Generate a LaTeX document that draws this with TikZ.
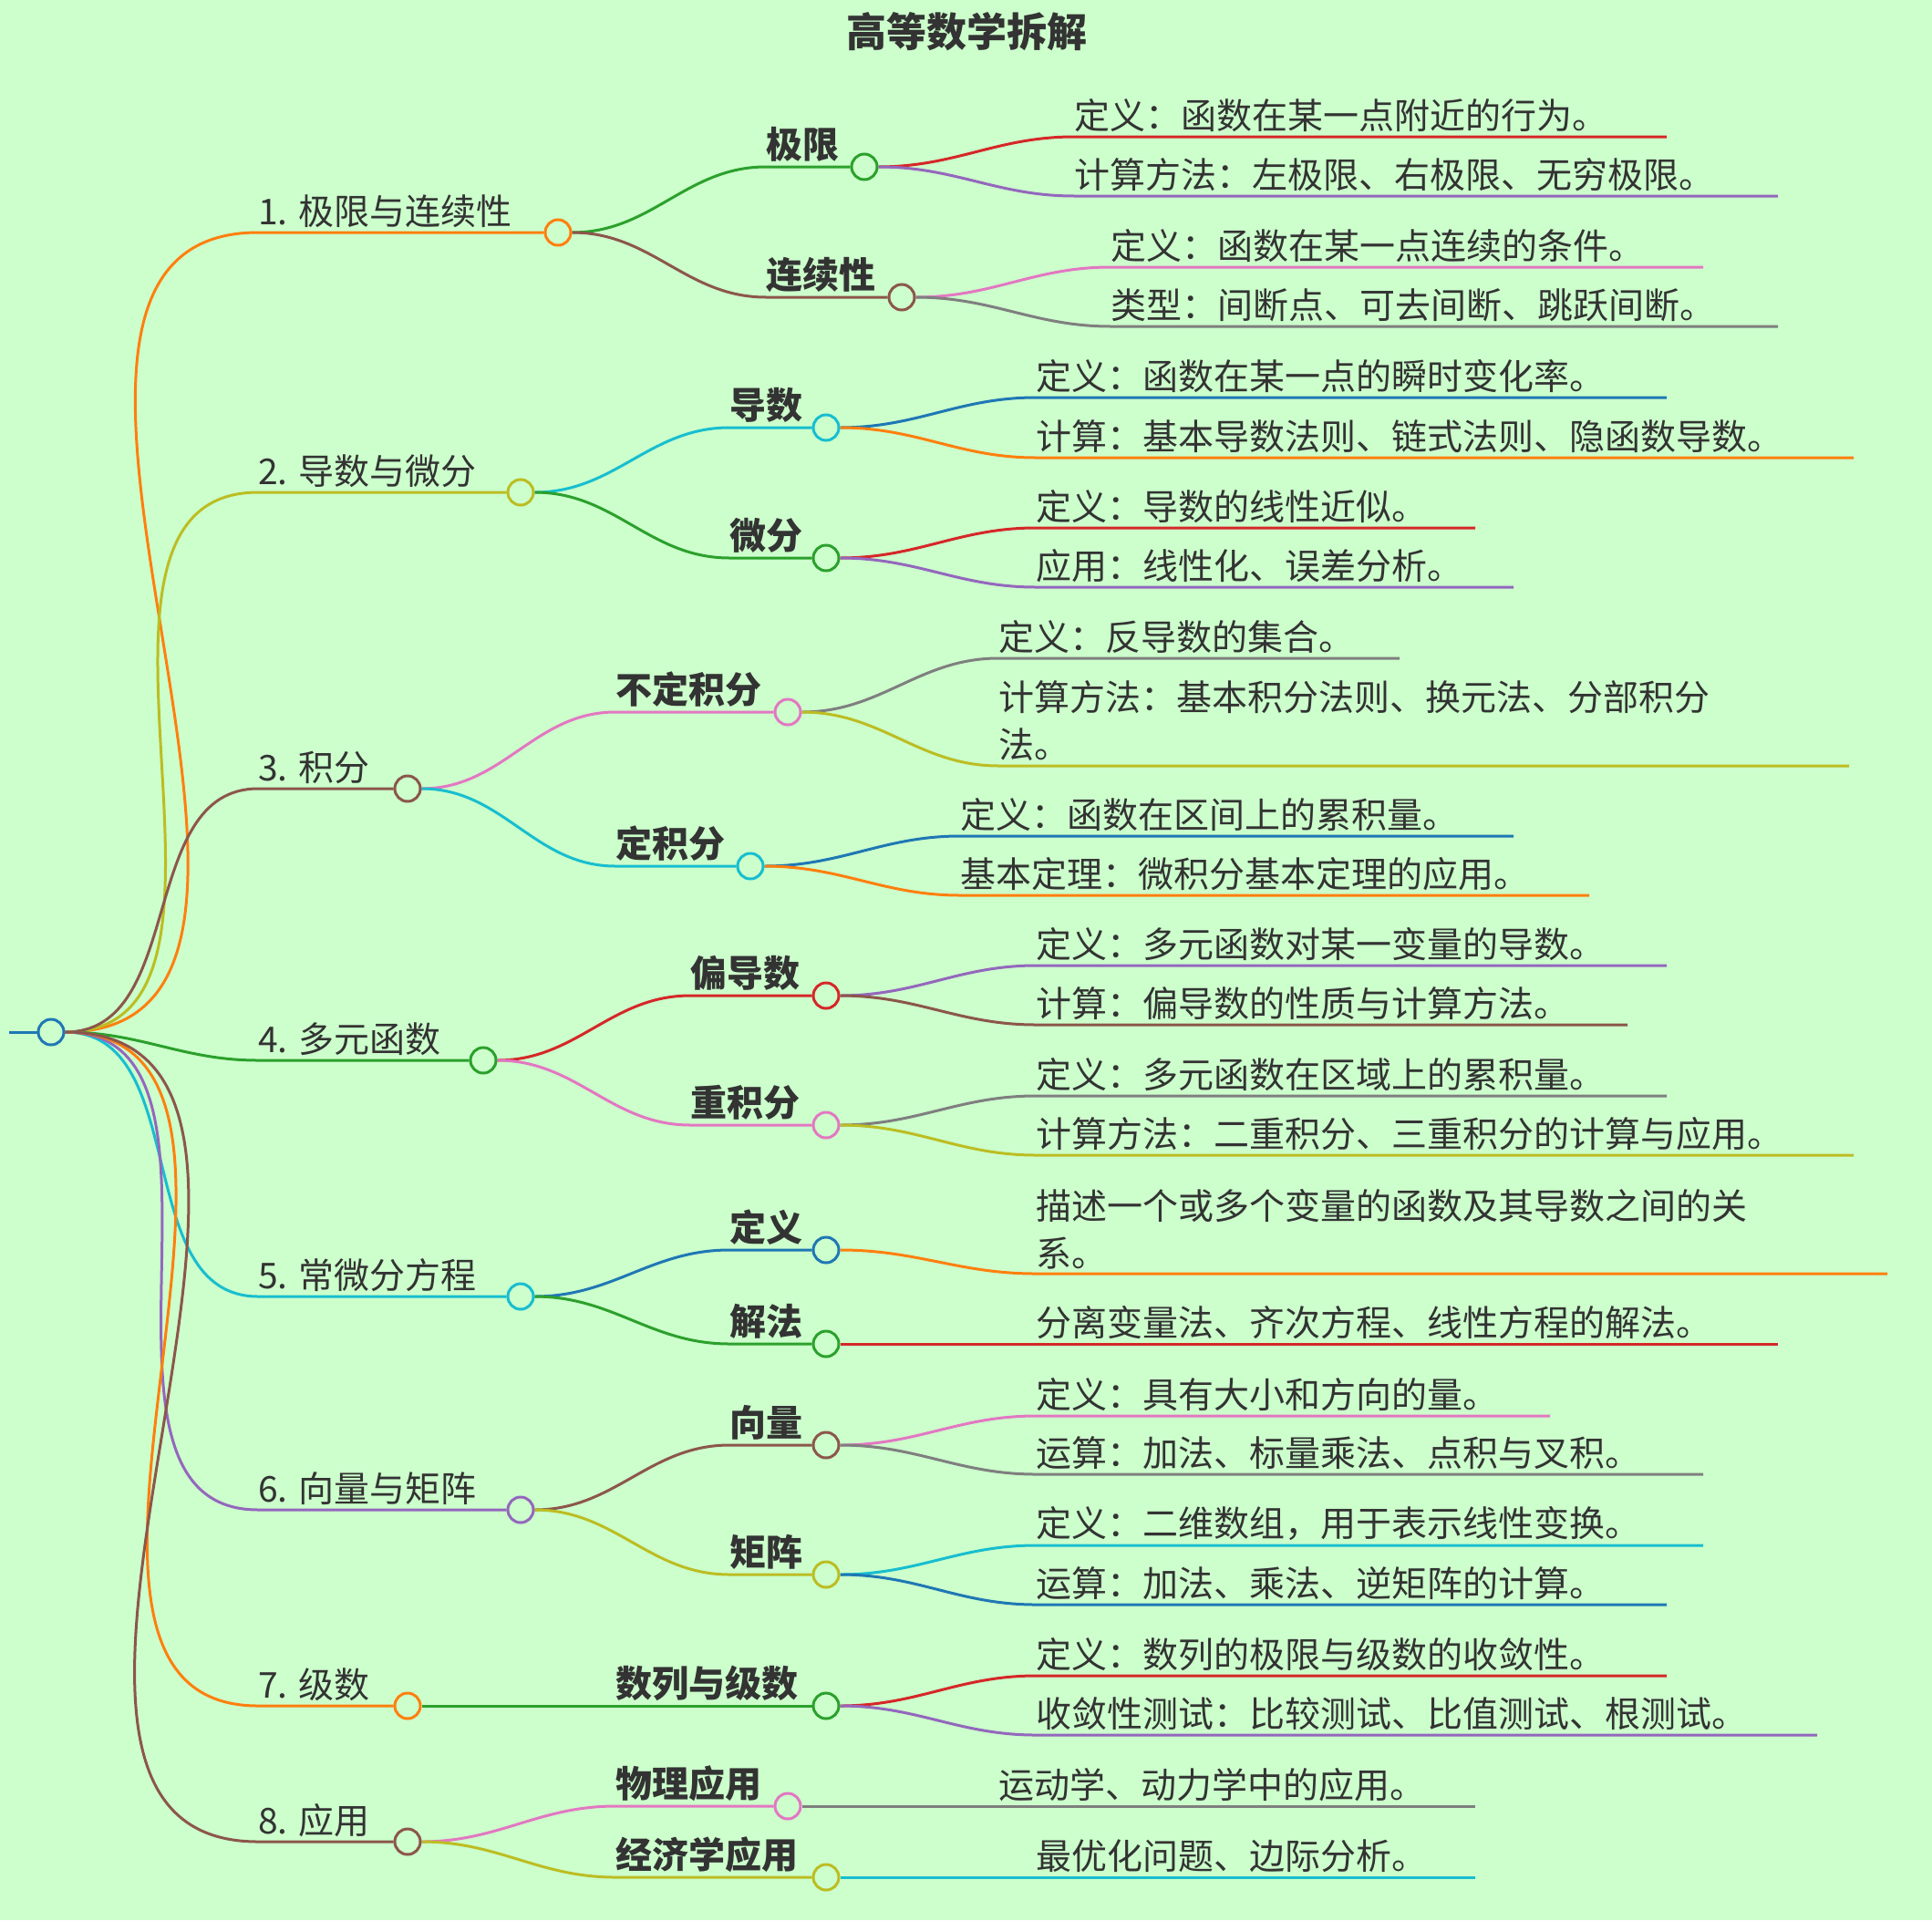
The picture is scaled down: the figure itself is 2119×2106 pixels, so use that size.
\documentclass[tikz,border=0pt]{standalone}
\usepackage{fontspec}
\setmainfont{Noto Sans CJK SC}
\pgfdeclarelayer{bg}
\pgfsetlayers{bg,main}
\definecolor{bgc}{HTML}{CCFFCC}
\definecolor{cOr}{HTML}{FF7F0E}
\definecolor{cOl}{HTML}{BCBD22}
\definecolor{cBr}{HTML}{8C564B}
\definecolor{cGr}{HTML}{2CA02C}
\definecolor{cCy}{HTML}{17BECF}
\definecolor{cPu}{HTML}{9467BD}
\definecolor{cPi}{HTML}{E377C2}
\definecolor{cRe}{HTML}{D62728}
\definecolor{cBl}{HTML}{1F77B4}
\definecolor{cGy}{HTML}{7F7F7F}
\definecolor{txc}{HTML}{333333}
\newcommand\fa{\fontsize{39}{52}\selectfont}
\newcommand\fb{\fontsize{40}{52}\selectfont\bfseries}
\tikzset{
  circ/.style={circle,minimum size=28pt,inner sep=0pt,line width=3pt,fill=bgc},
  edge/.style={line width=3pt},
  txt/.style={inner xsep=0pt,inner ysep=5pt,text=txc,align=left}
}
\newcommand\kid[8]{%
  \node[circ,draw=#6] (#1) at (#5,#4) {};
  \node[txt,anchor=south west,font=#8] (#1t) at (#3,#4) {#7};
  \begin{pgfonlayer}{bg}\draw[edge,#6] (#2.east) to[out=0,in=180] (#3,#4) -- (#1.west);\end{pgfonlayer}}
\newcommand\leaf[7]{%
  \coordinate (#1) at (#5,#4);
  \node[txt,anchor=south west,font=\fa] (#1t) at (#3,#4) {#7};
  \begin{pgfonlayer}{bg}\draw[edge,#6] (#2.east) to[out=0,in=180] (#3,#4) -- (#1);\end{pgfonlayer}}
\begin{document}
\begin{tikzpicture}[x=1pt,y=-1pt]
\begin{pgfonlayer}{bg}
\fill[bgc] (0,0) rectangle (2119,2106);
\end{pgfonlayer}
\useasboundingbox (0,0) rectangle (2119,2106);
\node[font=\fontsize{44}{52}\selectfont\bfseries,text=txc] (title) at (1060,35) {高等数学拆解};
\node[circ,draw=cBl] (root) at (56,1132) {};
\coordinate (stub) at (10,1132);
\begin{pgfonlayer}{bg}\draw[edge,cBl] (stub) -- (root.west);\end{pgfonlayer}
% level 1
\kid{a}{root}{283}{255}{612}{cOr}{1. 极限与连续性}{\fa}
\kid{b}{root}{283}{540}{571}{cOl}{2. 导数与微分}{\fa}
\kid{c}{root}{283}{865}{447}{cBr}{3. 积分}{\fa}
\kid{d}{root}{283}{1163}{530}{cGr}{4. 多元函数}{\fa}
\kid{e}{root}{283}{1422}{571}{cCy}{5. 常微分方程}{\fa}
\kid{f}{root}{283}{1656}{571}{cPu}{6. 向量与矩阵}{\fa}
\kid{g}{root}{283}{1871}{447}{cOr}{7. 级数}{\fa}
\kid{h}{root}{283}{2020}{447}{cBr}{8. 应用}{\fa}
% level 2
\kid{a1}{a}{840}{183}{948}{cGr}{极限}{\fb}
\kid{a2}{a}{840}{326}{989}{cBr}{连续性}{\fb}
\kid{b1}{b}{800}{469}{906}{cCy}{导数}{\fb}
\kid{b2}{b}{800}{612}{906}{cGr}{微分}{\fb}
\kid{c1}{c}{675}{781}{864}{cPi}{不定积分}{\fb}
\kid{c2}{c}{675}{950}{823}{cCy}{定积分}{\fb}
\kid{d1}{d}{757}{1092}{906}{cRe}{偏导数}{\fb}
\kid{d2}{d}{757}{1234}{906}{cPi}{重积分}{\fb}
\kid{e1}{e}{800}{1371}{906}{cBl}{定义}{\fb}
\kid{e2}{e}{800}{1474}{906}{cGr}{解法}{\fb}
\kid{f1}{f}{800}{1585}{906}{cBr}{向量}{\fb}
\kid{f2}{f}{800}{1727}{906}{cOl}{矩阵}{\fb}
\kid{g1}{g}{675}{1871}{906}{cGr}{数列与级数}{\fb}
\kid{h1}{h}{675}{1981}{864}{cPi}{物理应用}{\fb}
\kid{h2}{h}{675}{2059}{906}{cOl}{经济学应用}{\fb}
% leaves
\leaf{l1}{a1}{1178}{150}{1828}{cRe}{定义：函数在某一点附近的行为。}
\leaf{l2}{a1}{1178}{215}{1950}{cPu}{计算方法：左极限、右极限、无穷极限。}
\leaf{l3}{a2}{1218}{293}{1868}{cPi}{定义：函数在某一点连续的条件。}
\leaf{l4}{a2}{1218}{358}{1950}{cGy}{类型：间断点、可去间断、跳跃间断。}
\leaf{l5}{b1}{1136}{436}{1828}{cBl}{定义：函数在某一点的瞬时变化率。}
\leaf{l6}{b1}{1136}{502}{2033}{cOr}{计算：基本导数法则、链式法则、隐函数导数。}
\leaf{l7}{b2}{1136}{579}{1618}{cRe}{定义：导数的线性近似。}
\leaf{l8}{b2}{1136}{644}{1660}{cPu}{应用：线性化、误差分析。}
\leaf{l9}{c1}{1095}{722}{1535}{cGy}{定义：反导数的集合。}
\leaf{l10}{c1}{1095}{840}{2028}{cOl}{计算方法：基本积分法则、换元法、分部积分\\法。}
\leaf{l11}{c2}{1053}{917}{1660}{cBl}{定义：函数在区间上的累积量。}
\leaf{l12}{c2}{1053}{982}{1743}{cOr}{基本定理：微积分基本定理的应用。}
\leaf{l13}{d1}{1136}{1059}{1828}{cPu}{定义：多元函数对某一变量的导数。}
\leaf{l14}{d1}{1136}{1124}{1785}{cBr}{计算：偏导数的性质与计算方法。}
\leaf{l15}{d2}{1136}{1202}{1828}{cGy}{定义：多元函数在区域上的累积量。}
\leaf{l16}{d2}{1136}{1267}{2033}{cOl}{计算方法：二重积分、三重积分的计算与应用。}
\leaf{l17}{e1}{1136}{1397}{2070}{cOr}{描述一个或多个变量的函数及其导数之间的关\\系。}
\leaf{l18}{e2}{1136}{1474}{1950}{cRe}{分离变量法、齐次方程、线性方程的解法。}
\leaf{l19}{f1}{1136}{1553}{1700}{cPi}{定义：具有大小和方向的量。}
\leaf{l20}{f1}{1136}{1617}{1868}{cGy}{运算：加法、标量乘法、点积与叉积。}
\leaf{l21}{f2}{1136}{1695}{1868}{cCy}{定义：二维数组，用于表示线性变换。}
\leaf{l22}{f2}{1136}{1760}{1828}{cBl}{运算：加法、乘法、逆矩阵的计算。}
\leaf{l23}{g1}{1136}{1838}{1828}{cRe}{定义：数列的极限与级数的收敛性。}
\leaf{l24}{g1}{1136}{1903}{1993}{cPu}{收敛性测试：比较测试、比值测试、根测试。}
\leaf{l25}{h1}{1095}{1981}{1618}{cGy}{运动学、动力学中的应用。}
\leaf{l26}{h2}{1136}{2059}{1618}{cCy}{最优化问题、边际分析。}
\end{tikzpicture}
\end{document}
